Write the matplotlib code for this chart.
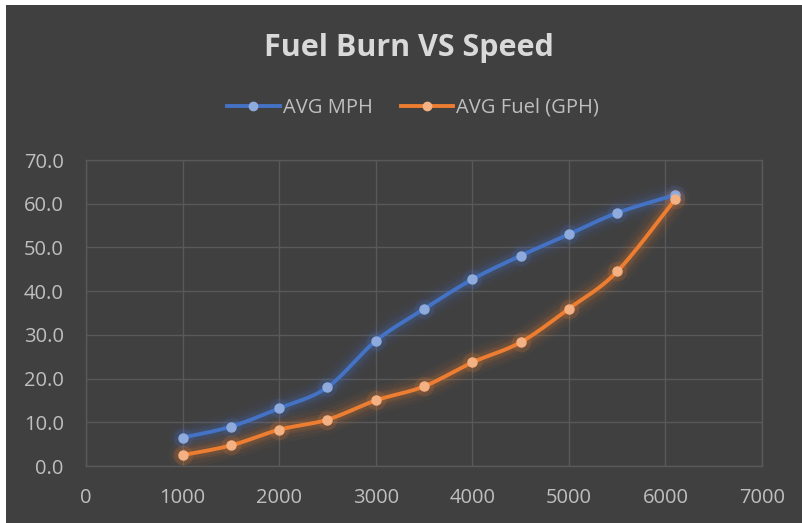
import numpy as np
import matplotlib.pyplot as plt
from matplotlib.patches import Rectangle

# data
rpm = [1000, 1500, 2000, 2500, 3000, 3500, 4000, 4500, 5000, 5500, 6100]
avg_mph = [6.5, 9.0, 13.2, 18.0, 28.6, 35.9, 42.7, 48.1, 53.0, 57.9, 62.0]
avg_fuel = [2.5, 4.7, 8.3, 10.6, 15.0, 18.2, 23.7, 28.3, 36.0, 44.5, 61.0]

x_ticks = [0, 1000, 2000, 3000, 4000, 5000, 6000, 7000]
y_ticks = [0, 10, 20, 30, 40, 50, 60, 70]

BG = '#404040'
TXT = '#bfbfbf'
GRID = '#595959'

plt.rcParams['font.family'] = ['Open Sans', 'DejaVu Sans']


def smooth(x, y, n=24):
    # Catmull-Rom curve through the points, like Excel's smoothed line
    p = np.column_stack([x, y]).astype(float)
    p = np.vstack([p[0], p, p[-1]])
    out = []
    t = np.linspace(0, 1, n, endpoint=False)[:, None]
    for i in range(1, len(p) - 2):
        p0, p1, p2, p3 = p[i - 1], p[i], p[i + 1], p[i + 2]
        seg = 0.5 * (2 * p1 + (-p0 + p2) * t
                     + (2 * p0 - 5 * p1 + 4 * p2 - p3) * t ** 2
                     + (-p0 + 3 * p1 - 3 * p2 + p3) * t ** 3)
        out.append(seg)
    out.append(p[-2][None, :])
    out = np.vstack(out)
    return out[:, 0], out[:, 1]


fig = plt.figure(figsize=(8.03, 5.23), dpi=100, facecolor='white')
fig.patches.append(Rectangle((6 / 803, 0), 1, 1 - 5 / 523, transform=fig.transFigure,
                             facecolor=BG, edgecolor='none', zorder=-10))

ax = fig.add_axes([86 / 803, 1 - 466 / 523, (762 - 86) / 803, (466 - 160) / 523])
ax.set_facecolor(BG)

series = [
    (avg_mph, 'AVG MPH', '#4472C4', '#8FAADC'),
    (avg_fuel, 'AVG Fuel (GPH)', '#ED7D31', '#F4B183'),
]
for vals, label, col, mcol in series:
    sx, sy = smooth(rpm, vals)
    # soft glow under the line
    for w, a in [(20, 0.04), (15, 0.06), (10, 0.09), (7, 0.12)]:
        ax.plot(sx, sy, color=col, lw=w, alpha=a, solid_capstyle='round', zorder=2)
    ax.scatter(rpm, vals, s=200, color=col, alpha=0.15, lw=0, zorder=2)
    ax.plot(sx, sy, color=col, lw=2.8, zorder=3, solid_capstyle='round')
    ax.plot(rpm, vals, ls='none', marker='o', ms=6.5, color=mcol, mec=mcol, zorder=4)
    ax.plot([], [], color=col, lw=2.8, marker='o', ms=6, mfc=mcol, mec=mcol, label=label)

ax.set_xlim(0, 7000)
ax.set_ylim(0, 70)
ax.set_xticks(x_ticks)
ax.set_yticks(y_ticks)
ax.set_yticklabels([f'{v:.1f}' for v in y_ticks])
ax.grid(True, color=GRID, lw=1.0)
ax.set_axisbelow(True)
for s in ax.spines.values():
    s.set_color(GRID)
    s.set_linewidth(1.0)
ax.tick_params(length=0, colors=TXT, labelsize=14.5)
ax.tick_params(axis='x', pad=16)
ax.tick_params(axis='y', pad=16)

fig.text(409 / 803, 1 - 48 / 523, 'Fuel Burn VS Speed', ha='center', va='center',
         fontsize=22, fontweight='bold', color='#d9d9d9')

fig.legend(loc='center', bbox_to_anchor=(413 / 803, 1 - 108 / 523), ncol=2,
           frameon=False, fontsize=14.5, labelcolor=TXT, handlelength=2.6,
           handletextpad=0.15, columnspacing=1.4)

fig.savefig('out.png', dpi=100, facecolor=fig.get_facecolor())
